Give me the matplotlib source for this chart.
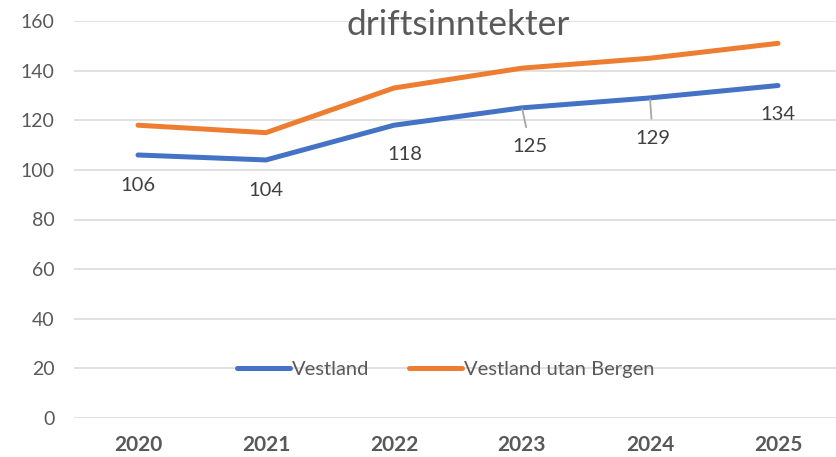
import matplotlib
matplotlib.use("Agg")
import matplotlib.pyplot as plt

# data
years = ['2020', '2021', '2022', '2023', '2024', '2025']
vestland = [106, 104, 118, 125, 129, 134]
vestland_utan_bergen = [118, 115, 133, 141, 145, 151]

# label offsets (points) for the Vestland data labels, and whether a leader line is drawn
lab_dx = [0, 0, 8, 6, 2, 0]
lab_dy = [-22, -22, -21, -28, -29, -21]
leader = [False, False, False, True, True, False]

plt.rcParams['font.family'] = ['Lato', 'DejaVu Sans']
grey = '#595959'

fig = plt.figure(figsize=(8.36, 4.57), dpi=100)
ax = fig.add_axes([74 / 836, 1 - 418 / 457, 768 / 836, (418 - 21) / 457])

x = list(range(len(years)))
ax.plot(x, vestland, color='#4472C4', lw=3.6, solid_capstyle='round', label='Vestland', zorder=3)
ax.plot(x, vestland_utan_bergen, color='#ED7D31', lw=3.6, solid_capstyle='round',
        label='Vestland utan Bergen', zorder=3)

for i, v in enumerate(vestland):
    if leader[i]:
        ax.annotate(str(v), (x[i], v), xytext=(lab_dx[i], lab_dy[i]), textcoords='offset points',
                    ha='center', va='center', fontsize=14.5, color='#404040',
                    arrowprops=dict(arrowstyle='-', color='#A6A6A6', lw=1.3, shrinkA=6, shrinkB=1))
    else:
        ax.annotate(str(v), (x[i], v), xytext=(lab_dx[i], lab_dy[i]), textcoords='offset points',
                    ha='center', va='center', fontsize=14.5, color='#404040')

ax.set_xlim(-0.5, 5.5)
ax.set_ylim(0, 160)
ax.set_yticks(range(0, 161, 20))
ax.set_xticks(x)
ax.set_xticklabels(years, fontweight='bold')
ax.tick_params(axis='both', length=0, colors=grey)
ax.tick_params(axis='y', labelsize=14, pad=14)
ax.tick_params(axis='x', labelsize=15, pad=12)
ax.grid(axis='y', color='#D9D9D9', lw=1.1)
ax.set_axisbelow(True)
for s in ax.spines.values():
    s.set_visible(False)

ax.set_title('driftsinntekter', fontsize=25.5, color=grey, y=0.965, pad=0)

ax.legend(loc='center', bbox_to_anchor=(0.484, 0.123), ncol=2, frameon=False, fontsize=14.5,
          handlelength=2.6, handletextpad=0.1, columnspacing=2.0, labelcolor=grey)

fig.savefig('out.png', dpi=100)
